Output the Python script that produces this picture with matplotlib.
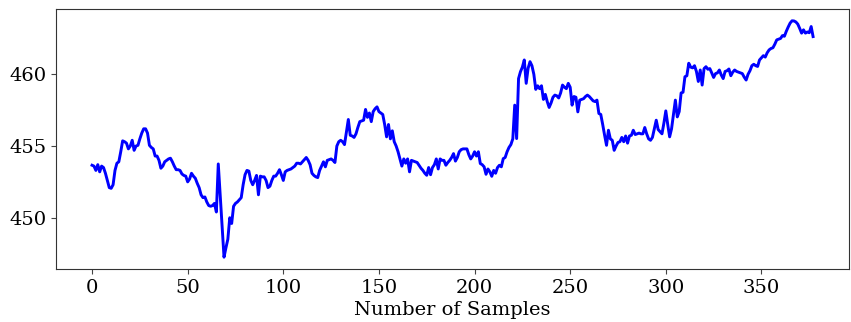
import numpy as np
import matplotlib
matplotlib.use("Agg")
import matplotlib.pyplot as plt

plt.rcParams["font.family"] = "DejaVu Serif"

# sampled readings, one value per sample
values = [
    453.66, 453.6, 453.3, 453.7, 453.2, 453.6, 453.5, 453.1, 452.6, 452.1,
    452.05, 452.3, 453.3, 453.8, 453.9, 454.6, 455.36, 455.3, 455.2, 454.8,
    455.0, 455.4, 454.7, 455.0, 455.05, 455.5, 455.9, 456.2, 456.2, 455.9,
    455.05, 454.9, 454.8, 454.3, 454.3, 454.0, 453.45, 453.6, 453.9, 454.0,
    454.1, 454.15, 453.9, 453.6, 453.35, 453.35, 453.3, 453.05, 452.95, 452.9,
    452.5, 452.7, 453.1, 452.9, 452.75, 452.4, 452.1, 451.6, 451.4, 451.45,
    451.1, 450.85, 450.8, 450.85, 451.0, 450.4, 453.75, 451.6, 449.4, 447.25,
    447.9, 448.5, 450.0, 449.6, 450.8, 451.0, 451.1, 451.25, 451.4, 452.3,
    453.0, 453.3, 453.25, 452.6, 452.3, 452.6, 452.95, 451.6, 452.9, 452.85,
    452.85, 452.6, 452.1, 452.2, 452.6, 452.9, 452.9, 453.1, 453.35, 453.0,
    452.6, 453.2, 453.3, 453.35, 453.4, 453.5, 453.6, 453.8, 453.8, 453.75,
    453.9, 454.05, 454.2, 454.0, 453.7, 453.1, 452.95, 452.85, 452.8, 453.3,
    453.6, 453.9, 453.55, 454.0, 454.05, 454.1, 454.0, 453.85, 455.0, 455.3,
    455.4, 455.3, 455.1, 456.0, 456.85, 455.75, 455.7, 455.6, 455.85, 456.3,
    456.7, 456.75, 456.8, 457.55, 457.0, 457.3, 456.7, 457.4, 457.6, 457.73,
    457.4, 457.3, 457.2, 456.5, 455.64, 456.5, 455.5, 456.06, 455.3, 455.0,
    454.6, 454.1, 453.6, 454.1, 453.8, 454.1, 453.2, 454.0, 453.95, 453.9,
    453.85, 453.65, 453.45, 453.3, 453.1, 452.96, 453.5, 453.0, 453.5, 453.7,
    454.1, 453.4, 454.1, 454.0, 454.0, 453.66, 453.85, 454.0, 454.2, 454.47,
    453.95, 454.2, 454.6, 454.75, 454.8, 454.8, 454.8, 454.4, 454.1, 454.3,
    454.6, 454.3, 454.6, 453.78, 453.7, 453.55, 453.03, 453.4, 453.2, 452.89,
    453.3, 453.1, 453.5, 453.66, 453.55, 454.12, 454.2, 454.6, 454.9, 455.1,
    455.5, 457.85, 455.52, 459.7, 460.18, 460.5, 461.0, 459.37, 460.42, 460.88,
    460.6, 460.0, 458.95, 459.2, 459.0, 459.2, 458.25, 458.6, 458.1, 457.69,
    458.0, 458.4, 458.55, 458.5, 458.35, 458.7, 459.25, 459.1, 459.0, 459.37,
    459.1, 457.85, 458.45, 458.4, 457.38, 458.2, 458.25, 458.3, 458.45, 458.55,
    458.45, 458.3, 458.15, 458.1, 458.2, 457.27, 457.2, 456.5, 455.75, 455.05,
    456.1, 455.5, 455.4, 454.7, 455.0, 455.25, 455.3, 455.6, 455.3, 455.7,
    455.2, 455.7, 455.75, 456.1, 455.8, 455.85, 455.9, 455.85, 455.85, 456.29,
    455.85, 455.5, 455.4, 455.6, 456.2, 456.8, 456.15, 456.0, 455.85, 456.6,
    457.45, 456.5, 455.64, 456.2, 457.2, 458.2, 457.03, 457.4, 458.7, 458.75,
    459.83, 459.9, 460.77, 460.5, 460.45, 460.6, 460.2, 459.5, 460.3, 459.25,
    460.4, 460.53, 460.35, 460.4, 460.1, 459.78, 460.05, 460.1, 460.3, 459.95,
    459.7, 460.2, 460.25, 460.37, 459.9, 460.15, 460.3, 460.2, 460.15, 460.1,
    460.05, 459.8, 459.6, 460.0, 460.25, 460.6, 460.7, 460.6, 460.55, 461.0,
    461.15, 461.3, 461.2, 461.5, 461.7, 461.8, 461.85, 462.1, 462.4, 462.45,
    462.5, 462.7, 462.65, 463.0, 463.3, 463.57, 463.73, 463.72, 463.65, 463.5,
    463.2, 462.87, 463.1, 462.87, 462.95, 462.9, 463.33, 462.63,
]
samples = np.arange(len(values))

fig = plt.figure(figsize=(8.51, 3.22), dpi=100)
ax = fig.add_axes([0.0658, 0.1646, 0.932, 0.8075])
ax.plot(samples, values, color="blue", linewidth=2.1)
ax.set_xlabel("Number of Samples", fontsize=14, labelpad=3)
ax.tick_params(labelsize=14, color="#444444")
for sp in ax.spines.values():
    sp.set_color("#333333")
ax.set_xticks([0, 50, 100, 150, 200, 250, 300, 350])
ax.set_yticks([450, 455, 460])

fig.savefig("out.png", dpi=100)
